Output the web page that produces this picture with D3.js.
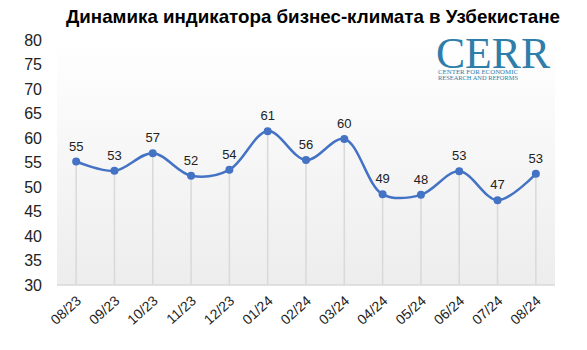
<!DOCTYPE html>
<html><head><meta charset="utf-8">
<script src="https://cdn.jsdelivr.net/npm/d3@7"></script>
<style>body{margin:0;background:#fff}svg{display:block}</style>
</head><body>
<svg id="chart" width="587" height="350"></svg>
<script>
const titleText = "Динамика индикатора бизнес-климата в Узбекистане";
const categories = ["08/23","09/23","10/23","11/23","12/23","01/24","02/24","03/24","04/24","05/24","06/24","07/24","08/24"];
const values = [55.2, 53.3, 56.9, 52.3, 53.5, 61.4, 55.5, 59.8, 48.5, 48.4, 53.2, 47.3, 52.7];
const valueLabels = ["55","53","57","52","54","61","56","60","49","48","53","47","53"];
const yTicks = [30,35,40,45,50,55,60,65,70,75,80];

const svg = d3.select("#chart");
const m = {left:57, right:32, top:40, bottom:65};
const W = 587, H = 350;
const x = d3.scaleBand().domain(categories).range([m.left, W - m.right]).padding(0);
const y = d3.scaleLinear().domain([30, 80]).range([H - m.bottom, m.top]);

const defs = svg.append("defs");
const grad = defs.append("linearGradient").attr("id","bg").attr("x1",0).attr("y1",0).attr("x2",0).attr("y2",1);
grad.append("stop").attr("offset","0%").attr("stop-color","#ffffff");
grad.append("stop").attr("offset","100%").attr("stop-color","#ededed");

svg.append("rect").attr("x", m.left).attr("y", y(80) - 5)
  .attr("width", W - m.right - m.left).attr("height", y(30) - y(80) + 5)
  .attr("fill","url(#bg)");

// baseline
svg.append("line").attr("x1", m.left).attr("x2", W - m.right)
  .attr("y1", y(30)).attr("y2", y(30)).attr("stroke","#d9d9d9").attr("stroke-width",1.5);

// y axis
const yAxis = d3.axisLeft(y).tickValues(yTicks).tickSize(0).tickPadding(0);
const gy = svg.append("g").attr("transform", `translate(${42},0)`).call(yAxis);
gy.select(".domain").remove();
gy.selectAll("text").attr("font-family","Liberation Sans, Arial, sans-serif")
  .attr("font-size", 16).attr("fill","#222");

// x axis
const xAxis = d3.axisBottom(x).tickSize(0).tickPadding(0);
const gx = svg.append("g").attr("transform", `translate(0,${y(30)})`).call(xAxis);
gx.select(".domain").remove();
gx.selectAll("text").attr("font-family","Liberation Sans, Arial, sans-serif")
  .attr("font-size", 14).attr("fill","#222")
  .attr("text-anchor","end").attr("dy", null)
  .attr("transform","translate(6,17) rotate(-42)");

const cx = d => x(d) + x.bandwidth()/2;

// drop lines
svg.append("g").selectAll("line").data(categories).join("line")
  .attr("x1", (d)=>cx(d)).attr("x2", d=>cx(d))
  .attr("y1", (d,i)=>y(values[i])).attr("y2", y(30))
  .attr("stroke","#d9d9d9").attr("stroke-width",1.5);

// line
const line = d3.line().x((d,i)=>cx(categories[i])).y(d=>y(d)).curve(d3.curveCatmullRom.alpha(0.5));
svg.append("path").datum(values).attr("d", line).attr("fill","none")
  .attr("stroke","#4472C4").attr("stroke-width",2.5);

svg.append("g").selectAll("circle").data(values).join("circle")
  .attr("cx",(d,i)=>cx(categories[i])).attr("cy", d=>y(d)).attr("r",4)
  .attr("fill","#4472C4");

svg.append("g").selectAll("text").data(values).join("text")
  .attr("x",(d,i)=>cx(categories[i])).attr("y", d=>y(d) - 11)
  .attr("text-anchor","middle")
  .attr("font-family","Liberation Sans, Arial, sans-serif").attr("font-size",13).attr("fill","#222")
  .text((d,i)=>valueLabels[i]);

// title
svg.append("text").attr("x", 313).attr("y", 23).attr("text-anchor","middle")
  .attr("font-family","Liberation Sans, Arial, sans-serif").attr("font-weight","bold")
  .attr("font-size",19).attr("textLength",494).attr("lengthAdjust","spacingAndGlyphs")
  .attr("fill","#000").text(titleText);

// logo
const logo = svg.append("g").attr("fill","#2f7eaa").attr("font-family","Liberation Serif, Times New Roman, serif");
logo.append("text").attr("x",436).attr("y",68).attr("font-size",44).attr("textLength",114).attr("lengthAdjust","spacingAndGlyphs").text("CERR");
logo.append("text").attr("x",438).attr("y",74).attr("font-size",5.2).attr("textLength",80).attr("lengthAdjust","spacingAndGlyphs").text("CENTER FOR ECONOMIC");
logo.append("text").attr("x",438).attr("y",80).attr("font-size",5.2).attr("textLength",80).attr("lengthAdjust","spacingAndGlyphs").text("RESEARCH AND REFORMS");
</script>
</body></html>
